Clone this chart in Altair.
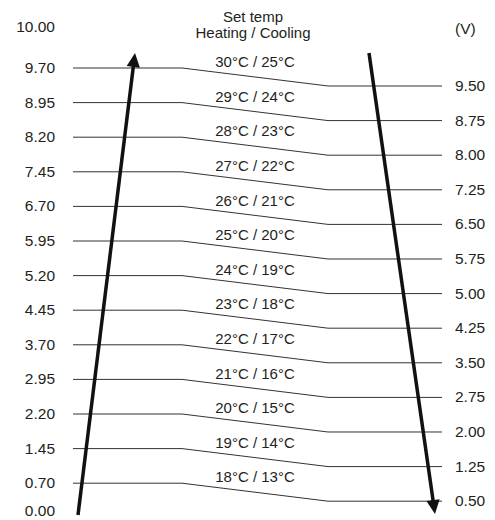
import math
import altair as alt
import pandas as pd

# ---- data ----
left_volts = ["9.70", "8.95", "8.20", "7.45", "6.70", "5.95", "5.20",
              "4.45", "3.70", "2.95", "2.20", "1.45", "0.70"]
right_volts = ["9.50", "8.75", "8.00", "7.25", "6.50", "5.75", "5.00",
               "4.25", "3.50", "2.75", "2.00", "1.25", "0.50"]
heating = [30, 29, 28, 27, 26, 25, 24, 23, 22, 21, 20, 19, 18]
cooling = [25, 24, 23, 22, 21, 20, 19, 18, 17, 16, 15, 14, 13]
top_left_label = "10.00"
bottom_left_label = "0.00"
unit_label = "(V)"
title_lines = ["Set temp", "Heating / Cooling"]

# ---- layout ----
W, H = 479, 510
ROW_PX = 34.6          # pixel distance between rows
ROW0_PX = 60           # pixel position of the first row
Y_DOMAIN = [-ROW0_PX / ROW_PX, (H - ROW0_PX) / ROW_PX]
RIGHT_DROP = 0.52      # right end of each line sits lower (in rows)
X_START, X_BEND1, X_BEND2, X_END = 65, 174, 320, 434
X_LEFT_LABEL, X_RIGHT_LABEL, X_TEMP, X_TITLE = 47, 447, 247, 245
TEMP_OFFSET = -0.17
FONT = "Liberation Sans"
FS = 15
TEXT_COLOR = "#231f20"

xs = alt.Scale(domain=[0, W], nice=False, zero=False)
ys = alt.Scale(domain=Y_DOMAIN, reverse=True, nice=False, zero=False)
X = lambda f: alt.X(f, type="quantitative", scale=xs, axis=None)
Y = lambda f: alt.Y(f, type="quantitative", scale=ys, axis=None)

# lines
rows = []
for k in range(len(left_volts)):
    pts = [(X_START, k), (X_BEND1, k), (X_BEND2, k + RIGHT_DROP), (X_END, k + RIGHT_DROP)]
    for i, (x, y) in enumerate(pts):
        rows.append({"row": k, "ord": i, "x": x, "y": y})
lines_df = pd.DataFrame(rows)
lines = alt.Chart(lines_df).mark_line(color="#333333", strokeWidth=1).encode(
    x=X("x"), y=Y("y"), detail="row:N", order="ord:Q")

# left labels
left_df = pd.DataFrame(
    [{"x": X_LEFT_LABEL, "y": -1.185, "t": top_left_label}]
    + [{"x": X_LEFT_LABEL, "y": k, "t": v} for k, v in enumerate(left_volts)]
    + [{"x": X_LEFT_LABEL, "y": 12.79, "t": bottom_left_label}])
left_txt = alt.Chart(left_df).mark_text(
    align="right", baseline="middle", font=FONT, fontSize=15.5, color=TEXT_COLOR
).encode(x=X("x"), y=Y("y"), text="t:N")

# right labels
right_df = pd.DataFrame(
    [{"x": X_RIGHT_LABEL, "y": -1.127, "t": unit_label}]
    + [{"x": X_RIGHT_LABEL, "y": k + RIGHT_DROP, "t": v} for k, v in enumerate(right_volts)])
right_txt = alt.Chart(right_df).mark_text(
    align="left", baseline="middle", font=FONT, fontSize=15.5, color=TEXT_COLOR
).encode(x=X("x"), y=Y("y"), text="t:N")

# temperature labels and title
center_df = pd.DataFrame(
    [{"x": X_TEMP, "y": k + TEMP_OFFSET, "t": f"{h}°C / {c}°C"}
     for k, (h, c) in enumerate(zip(heating, cooling))]
    + [{"x": X_TITLE, "y": -1.468, "t": title_lines[0]},
       {"x": X_TITLE, "y": -1.0, "t": title_lines[1]}])
center_txt = alt.Chart(center_df).mark_text(
    align="center", baseline="middle", font=FONT, fontSize=FS, color=TEXT_COLOR
).encode(x=X("x"), y=Y("y"), text="t:N")

# arrows: (tail, tip) in x units / rows
arrows = [
    {"name": "up", "x0": 70, "y0": 12.92, "x1": 127, "y1": -0.434},
    {"name": "down", "x0": 361, "y0": -0.434, "x1": 427, "y1": 12.89},
]
HEAD = 14.0
arrow_rows, head_rows = [], []
for a in arrows:
    dx = a["x1"] - a["x0"]
    dy = (a["y1"] - a["y0"]) * ROW_PX
    L = math.hypot(dx, dy)
    ux, uy = dx / L, dy / L
    cx = a["x1"] - ux * HEAD / 2
    cy = a["y1"] - uy * HEAD / 2 / ROW_PX
    ang = math.degrees(math.atan2(ux, -uy)) % 360
    arrow_rows.append({"name": a["name"], "ord": 0, "x": a["x0"], "y": a["y0"]})
    arrow_rows.append({"name": a["name"], "ord": 1, "x": cx, "y": cy})
    head_rows.append({"name": a["name"], "x": cx, "y": cy, "ang": ang})

arrow_lines = alt.Chart(pd.DataFrame(arrow_rows)).mark_line(
    color="#111111", strokeWidth=3.5).encode(
    x=X("x"), y=Y("y"), detail="name:N", order="ord:Q")
arrow_heads = alt.Chart(pd.DataFrame(head_rows)).mark_point(
    shape="M0,-1L0.95,1L-0.95,1Z", filled=True, color="#111111",
    size=HEAD * HEAD, opacity=1).encode(
    x=X("x"), y=Y("y"), angle=alt.Angle("ang:Q", scale=None))

chart = alt.layer(lines, arrow_lines, arrow_heads, left_txt, right_txt, center_txt).properties(
    width=W, height=H, autosize=alt.AutoSizeParams(type="none"), padding=0,
    background="white"
).configure_view(stroke=None)

chart.save("out.html", embed_options={"renderer": "svg", "actions": False})
